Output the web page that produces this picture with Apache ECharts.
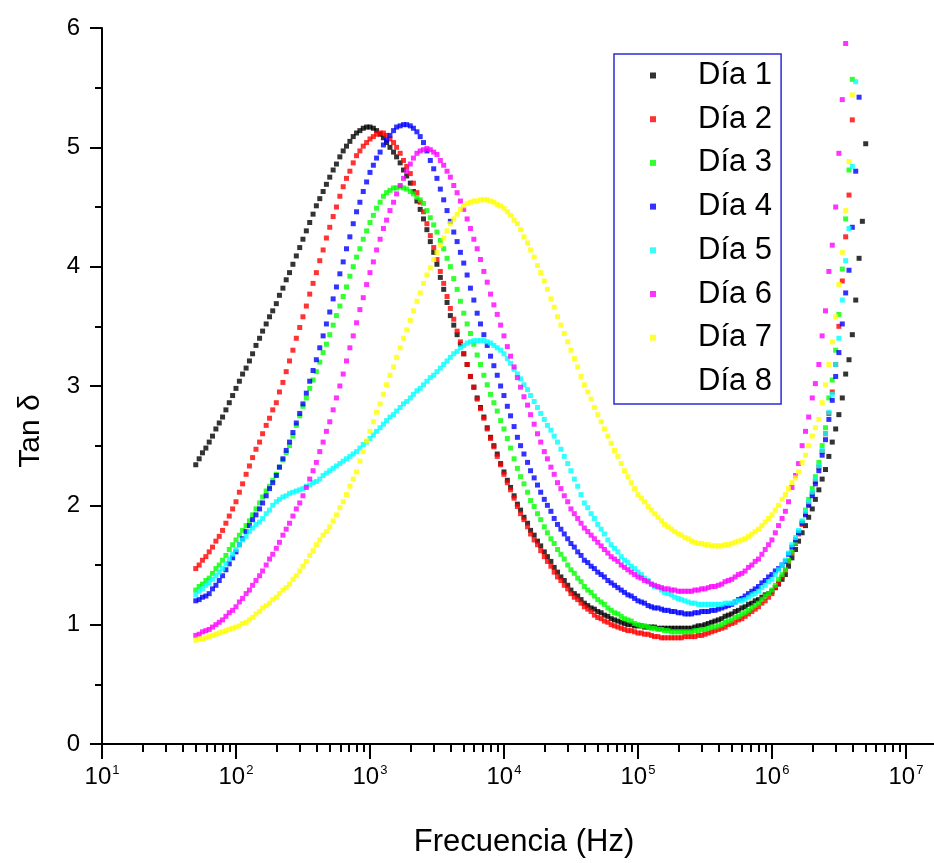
<!DOCTYPE html>
<html><head><meta charset="utf-8">
<script src="https://cdn.jsdelivr.net/npm/echarts@6/dist/echarts.min.js"></script>
<style>html,body{margin:0;padding:0;background:#fff}#c{width:934px;height:863px}</style>
</head><body><div id="c"></div>
<script>
// Frequency sweep (Hz)
const freqHz = [50.1,53.1,56.2,59.6,63.1,66.8,70.8,75.0,79.4,84.1,89.1,94.4,100,106,112,119,126,133,141,150,158,168,178,188,200,211,224,237,251,266,282,299,316,335,355,376,398,422,447,473,
501,531,562,596,631,668,708,750,794,841,891,944,1000,1060,1120,1190,1260,1330,1410,1500,1580,1680,1780,1880,2000,2110,2240,2370,2510,2660,2820,2990,3160,3350,3550,3760,3980,4220,4470,4730,
5010,5310,5620,5960,6310,6680,7080,7500,7940,8410,8910,9440,10000,10600,11200,11900,12600,13300,14100,15000,15800,16800,17800,18800,20000,21100,22400,23700,25100,26600,28200,29900,31600,33500,35500,37600,39800,42200,44700,47300,
50100,53100,56200,59600,63100,66800,70800,75000,79400,84100,89100,94400,100000,106000,112000,119000,126000,133000,141000,150000,158000,168000,178000,188000,200000,211000,224000,237000,251000,266000,282000,299000,316000,335000,355000,376000,398000,422000,447000,473000,
501000,531000,562000,596000,631000,668000,708000,750000,794000,841000,891000,944000,1000000,1060000,1120000,1190000,1260000,1330000,1410000,1500000,1580000,1680000,1780000,1880000,2000000,2110000,2240000,2370000,2510000,2660000,2820000,2990000,3160000,3350000,3550000,3760000,3980000,4220000,4470000,4730000,
5010000];

const dia1 = [2.34,2.39,2.44,2.48,2.53,2.58,2.64,2.69,2.74,2.80,2.86,2.92,
2.98,3.04,3.10,3.15,3.21,3.27,3.34,3.40,3.46,3.52,3.58,3.63,
3.69,3.76,3.82,3.89,3.95,4.02,4.09,4.16,4.23,4.30,4.37,4.44,
4.51,4.57,4.63,4.69,4.75,4.81,4.86,4.92,4.97,5.01,5.05,5.09,
5.12,5.14,5.16,5.17,5.17,5.16,5.14,5.11,5.08,5.04,5.00,4.96,
4.92,4.87,4.81,4.76,4.70,4.63,4.55,4.48,4.40,4.31,4.21,4.12,
4.02,3.91,3.81,3.70,3.59,3.51,3.43,3.35,3.27,3.18,3.08,2.99,
2.90,2.82,2.74,2.65,2.57,2.50,2.43,2.35,2.28,2.21,2.15,2.08,
2.01,1.96,1.90,1.85,1.79,1.75,1.70,1.66,1.61,1.57,1.53,1.48,
1.44,1.40,1.37,1.33,1.29,1.26,1.24,1.21,1.18,1.16,1.14,1.13,
1.11,1.10,1.08,1.07,1.05,1.04,1.03,1.02,1.01,1.00,1.00,0.99,
0.99,0.99,0.98,0.98,0.98,0.98,0.97,0.97,0.97,0.97,0.97,0.97,
0.97,0.97,0.97,0.97,0.97,0.98,0.99,0.99,1.00,1.01,1.02,1.03,
1.04,1.05,1.07,1.08,1.09,1.11,1.12,1.14,1.15,1.17,1.18,1.20,
1.21,1.23,1.25,1.26,1.28,1.31,1.34,1.38,1.42,1.49,1.56,1.63,
1.70,1.77,1.83,1.90,1.97,2.05,2.13,2.22,2.30,2.41,2.53,2.64,
2.76,2.90,3.10,3.22,3.43,3.72,4.07,4.38,5.03];

const dia2 = [1.47,1.50,1.54,1.57,1.61,1.65,1.70,1.74,1.79,1.85,1.91,1.97,
2.03,2.11,2.18,2.26,2.33,2.40,2.47,2.53,2.60,2.67,2.73,2.80,
2.86,2.95,3.03,3.12,3.21,3.30,3.40,3.49,3.58,3.67,3.77,3.86,
3.95,4.05,4.14,4.24,4.33,4.42,4.50,4.59,4.67,4.74,4.80,4.87,
4.93,4.97,5.01,5.04,5.07,5.09,5.11,5.12,5.12,5.10,5.07,5.04,
5.00,4.95,4.89,4.84,4.78,4.70,4.62,4.54,4.46,4.36,4.26,4.16,
4.06,3.96,3.86,3.75,3.65,3.56,3.46,3.37,3.27,3.18,3.08,2.99,
2.89,2.81,2.73,2.64,2.56,2.49,2.41,2.34,2.26,2.19,2.13,2.06,
1.99,1.93,1.88,1.82,1.76,1.71,1.67,1.62,1.57,1.53,1.49,1.44,
1.40,1.37,1.33,1.30,1.26,1.23,1.21,1.18,1.15,1.13,1.11,1.08,
1.06,1.05,1.03,1.02,1.00,0.99,0.98,0.97,0.96,0.95,0.95,0.94,
0.93,0.93,0.92,0.92,0.91,0.90,0.90,0.89,0.89,0.89,0.89,0.89,
0.89,0.89,0.90,0.90,0.90,0.90,0.91,0.91,0.92,0.93,0.94,0.95,
0.96,0.97,0.98,1.00,1.01,1.02,1.04,1.05,1.07,1.09,1.11,1.13,
1.15,1.18,1.20,1.23,1.26,1.31,1.35,1.40,1.45,1.53,1.60,1.68,
1.76,1.84,1.93,2.01,
2.10,2.20,2.32,2.45,2.60,2.77,2.95,3.18,3.50,3.88,4.25,4.60,5.23];

const dia3 = [1.29,1.32,1.34,1.37,1.39,1.43,1.47,1.50,1.54,1.58,1.63,1.67,
1.71,1.75,1.79,1.83,1.87,1.92,1.97,2.02,2.07,2.12,2.16,2.21,
2.26,2.32,2.38,2.44,2.50,2.58,2.67,2.75,2.83,2.90,2.98,3.05,
3.12,3.20,3.28,3.35,3.43,3.51,3.59,3.67,3.75,3.83,3.92,4.00,
4.08,4.15,4.23,4.30,4.37,4.43,4.49,4.54,4.59,4.62,4.64,4.66,
4.66,4.67,4.66,4.65,4.63,4.61,4.58,4.56,4.53,4.47,4.41,4.35,
4.29,4.22,4.15,4.07,4.00,3.90,3.81,3.71,3.61,3.52,3.44,3.35,
3.26,3.18,3.09,3.01,2.93,2.86,2.79,2.71,2.64,2.56,2.48,2.39,
2.31,2.24,2.18,2.11,2.04,1.99,1.93,1.88,1.82,1.77,1.72,1.68,
1.63,1.59,1.55,1.50,1.46,1.43,1.39,1.36,1.32,1.29,1.27,1.24,
1.21,1.19,1.17,1.14,1.12,1.10,1.09,1.07,1.05,1.04,1.03,1.01,
1.00,0.99,0.99,0.98,0.97,0.97,0.96,0.96,0.95,0.95,0.94,0.94,
0.94,0.94,0.94,0.94,0.94,0.95,0.95,0.96,0.96,0.97,0.98,0.98,
0.99,1.00,1.02,1.03,1.04,1.06,1.07,1.09,1.10,1.12,1.14,1.16,
1.18,1.21,1.24,1.26,1.29,1.33,1.38,1.42,1.46,1.54,1.61,1.69,
1.77,1.86,1.96,2.05,
2.14,2.24,2.36,2.50,2.65,2.90,3.05,3.30,3.60,3.98,4.40,4.81,5.57];

const dia4 = [1.20,1.21,1.23,1.24,1.26,1.30,1.33,1.37,1.41,1.46,1.51,1.56,
1.61,1.67,1.72,1.78,1.83,1.88,1.92,1.97,2.02,2.08,2.14,2.19,
2.25,2.32,2.39,2.46,2.53,2.61,2.69,2.77,2.85,2.94,3.04,3.13,
3.22,3.32,3.42,3.52,3.62,3.73,3.83,3.94,4.04,4.15,4.25,4.36,
4.46,4.54,4.63,4.71,4.79,4.85,4.91,4.96,5.02,5.06,5.10,5.14,
5.17,5.18,5.19,5.19,5.18,5.16,5.13,5.09,5.04,4.97,4.89,4.82,
4.74,4.65,4.56,4.47,4.38,4.29,4.21,4.12,4.03,3.93,3.82,3.72,
3.61,3.52,3.43,3.34,3.25,3.17,3.09,3.00,2.92,2.83,2.75,2.66,
2.57,2.50,2.43,2.36,2.29,2.23,2.17,2.11,2.05,2.00,1.95,1.89,
1.84,1.80,1.76,1.72,1.68,1.65,1.61,1.58,1.54,1.52,1.49,1.47,
1.44,1.42,1.40,1.37,1.35,1.33,1.31,1.29,1.27,1.25,1.24,1.22,
1.20,1.19,1.18,1.16,1.15,1.14,1.14,1.13,1.12,1.12,1.11,1.11,
1.10,1.10,1.09,1.09,1.09,1.10,1.10,1.11,1.11,1.11,1.12,1.12,
1.13,1.14,1.15,1.16,1.17,1.19,1.21,1.22,1.24,1.26,1.28,1.30,
1.32,1.35,1.37,1.40,1.42,1.45,1.47,1.50,1.53,1.59,1.65,1.71,
1.77,1.85,1.92,2.00,
2.08,2.18,2.29,2.42,2.55,2.72,2.88,3.08,3.28,3.52,3.78,3.97,4.33,4.80,5.42];

const dia5 = [1.25,1.28,1.30,1.33,1.35,1.38,1.41,1.44,1.47,1.51,1.55,1.59,
1.63,1.67,1.71,1.74,1.78,1.81,1.84,1.86,1.89,1.93,1.96,2.00,
2.03,2.05,2.07,2.08,2.10,2.11,2.12,2.13,2.14,2.16,2.17,2.19,
2.20,2.22,2.25,2.27,2.29,2.31,2.33,2.35,2.37,2.39,2.41,2.43,
2.45,2.48,2.51,2.53,2.56,2.59,2.62,2.65,2.68,2.71,2.74,2.76,
2.79,2.82,2.85,2.87,2.90,2.93,2.96,2.98,3.01,3.04,3.07,3.09,
3.12,3.15,3.18,3.21,3.24,3.27,3.29,3.32,3.34,3.36,3.37,3.38,
3.38,3.38,3.38,3.37,3.36,3.34,3.32,3.30,3.27,3.23,3.19,3.14,
3.10,3.06,3.01,2.97,2.92,2.87,2.82,2.77,2.72,2.67,2.63,2.58,
2.53,2.47,2.41,2.35,2.29,2.22,2.16,2.09,2.02,1.98,1.93,1.89,
1.84,1.80,1.76,1.71,1.67,1.64,1.61,1.57,1.54,1.52,1.49,1.47,
1.44,1.42,1.39,1.37,1.34,1.32,1.31,1.29,1.27,1.26,1.25,1.23,
1.22,1.21,1.20,1.19,1.18,1.18,1.17,1.17,1.17,1.17,1.17,1.17,
1.17,1.17,1.18,1.18,1.18,1.19,1.20,1.20,1.21,1.23,1.25,1.26,
1.28,1.31,1.33,1.36,1.38,1.42,1.46,1.50,1.54,1.60,1.67,1.73,
1.79,1.87,1.95,2.03,
2.11,2.22,2.33,2.46,2.60,2.78,2.93,3.18,3.40,3.72,4.05,4.32,4.84,5.55];

const dia6 = [0.91,0.92,0.94,0.95,0.96,0.98,1.00,1.02,1.04,1.07,1.10,1.12,
1.15,1.19,1.22,1.26,1.29,1.33,1.37,1.41,1.45,1.50,1.55,1.59,
1.64,1.69,1.75,1.80,1.85,1.91,1.97,2.02,2.08,2.15,2.22,2.29,
2.36,2.45,2.53,2.62,2.70,2.80,2.90,3.00,3.10,3.21,3.32,3.42,
3.53,3.64,3.74,3.85,3.95,4.04,4.14,4.23,4.32,4.39,4.47,4.54,
4.61,4.68,4.74,4.80,4.86,4.91,4.95,4.97,4.98,4.99,4.98,4.96,
4.94,4.89,4.85,4.80,4.75,4.68,4.62,4.55,4.48,4.40,4.32,4.23,
4.15,4.06,3.96,3.87,3.77,3.68,3.60,3.51,3.42,3.33,3.25,3.16,
3.07,2.99,2.91,2.84,2.76,2.68,2.60,2.53,2.45,2.39,2.32,2.26,
2.19,2.14,2.08,2.03,1.97,1.93,1.89,1.85,1.81,1.78,1.75,1.72,
1.69,1.66,1.63,1.60,1.57,1.55,1.53,1.50,1.48,1.46,1.44,1.42,
1.40,1.39,1.37,1.36,1.34,1.33,1.32,1.31,1.30,1.30,1.29,1.29,
1.28,1.28,1.28,1.28,1.28,1.29,1.29,1.30,1.30,1.31,1.32,1.32,
1.33,1.34,1.36,1.37,1.38,1.40,1.42,1.43,1.45,1.48,1.50,1.53,
1.55,1.59,1.63,1.67,1.71,1.77,1.83,1.89,
1.95,2.03,2.15,2.25,2.35,2.50,2.62,2.74,2.90,3.02,3.18,3.42,3.63,3.96,4.18,4.50,4.95,5.40,5.87];

const dia7 = [0.87,0.88,0.88,0.89,0.90,0.91,0.92,0.93,0.94,0.95,0.96,0.97,
0.98,0.99,1.01,1.02,1.04,1.06,1.09,1.11,1.14,1.16,1.18,1.21,
1.23,1.26,1.29,1.31,1.34,1.38,1.41,1.45,1.49,1.53,1.58,1.62,
1.67,1.71,1.75,1.78,1.82,1.87,1.92,1.98,2.03,2.09,2.16,2.22,
2.28,2.37,2.45,2.54,2.62,2.70,2.78,2.85,2.93,3.01,3.09,3.16,
3.24,3.32,3.40,3.47,3.55,3.63,3.71,3.78,3.86,3.93,3.99,4.06,
4.12,4.18,4.24,4.30,4.36,4.40,4.44,4.48,4.51,4.53,4.54,4.55,
4.55,4.56,4.56,4.56,4.55,4.54,4.52,4.51,4.49,4.46,4.43,4.39,
4.36,4.31,4.25,4.20,4.14,4.08,4.01,3.95,3.88,3.81,3.73,3.66,
3.58,3.51,3.44,3.37,3.30,3.23,3.16,3.08,3.01,2.95,2.89,2.82,
2.76,2.70,2.64,2.58,2.52,2.46,2.41,2.35,2.29,2.24,2.19,2.14,
2.09,2.06,2.03,1.99,1.96,1.93,1.90,1.87,1.84,1.82,1.80,1.78,
1.76,1.75,1.73,1.72,1.70,1.69,1.68,1.68,1.67,1.67,1.66,1.66,
1.66,1.66,1.67,1.67,1.68,1.69,1.70,1.71,1.72,1.74,1.76,1.78,
1.80,1.83,1.86,1.89,1.92,1.96,2.00,2.05,2.09,2.14,2.19,2.23,
2.28,2.36,2.42,2.50,2.58,2.65,2.72,2.86,3.01,3.18,3.37,3.58,3.85,4.12,4.47,4.88,5.44];

const dia8 = [];

const seriesNames = ['Día 1','Día 2','Día 3','Día 4','Día 5','Día 6','Día 7','Día 8'];
const seriesValues = [dia1, dia2, dia3, dia4, dia5, dia6, dia7, dia8];
const seriesColors = ['#000000','#ff0000','#00ff00','#0000ff','#00ffff','#ff00ff','#ffff00','rgba(255,255,255,0)'];

const xMajorTicks = [10,100,1000,10000,100000,1000000,10000000];
const xTickExponents = ['1','2','3','4','5','6','7'];
const xMinorTicks = [20,30,40,50,60,70,80,90,
200,300,400,500,600,700,800,900,
2000,3000,4000,5000,6000,7000,8000,9000,
20000,30000,40000,50000,60000,70000,80000,90000,
200000,300000,400000,500000,600000,700000,800000,900000,
2000000,3000000,4000000,5000000,6000000,7000000,8000000,9000000];

const FONT = 'Arial, "Liberation Sans", sans-serif';
const chart = echarts.init(document.getElementById('c'), null, {renderer:'canvas'});

const option = {
  animation: false,
  backgroundColor: '#ffffff',
  grid: {left: 102, top: 28, right: 0, bottom: 115, containLabel: false},
  xAxis: [{
    type: 'log', logBase: 10, min: 10, max: 1.62e7,
    position: 'bottom',
    axisLine: {show: true, onZero: false, lineStyle: {color: '#000', width: 2}},
    axisTick: {show: true, inside: false, length: 15, lineStyle: {color: '#000', width: 2}, customValues: xMajorTicks},
    axisLabel: {
      show: true, margin: 20, color: '#000', customValues: xMajorTicks,
      formatter: function (v) {
        const e = xTickExponents[Math.round(Math.log10(v)) - 1];
        return '{b|10}{s|' + e + '}';
      },
      rich: {
        b: {fontSize: 24, fontFamily: FONT, color: '#000', lineHeight: 26},
        s: {fontSize: 13, fontFamily: FONT, color: '#000', verticalAlign: 'top', lineHeight: 26, padding: [0, 0, 0, 1]}
      }
    },
    splitLine: {show: false},
    minorTick: {show: false},
    name: 'Frecuencia (Hz)', nameLocation: 'middle', nameGap: 83,
    nameTextStyle: {fontSize: 31, fontFamily: FONT, color: '#000', padding: [0, 0, 0, 12]}
  }, {
    type: 'log', logBase: 10, min: 10, max: 1.62e7,
    position: 'bottom', offset: 0,
    axisLine: {show: false, onZero: false},
    axisTick: {show: true, inside: false, length: 8, lineStyle: {color: '#000', width: 2}, customValues: xMinorTicks},
    axisLabel: {show: false},
    splitLine: {show: false}
  }],
  yAxis: {
    type: 'value', min: 0, max: 6, interval: 1,
    axisLine: {show: true, onZero: false, lineStyle: {color: '#000', width: 2}},
    axisTick: {show: true, inside: false, length: 12, lineStyle: {color: '#000', width: 2}},
    minorTick: {show: true, splitNumber: 2, length: 7, lineStyle: {color: '#000', width: 2}},
    splitLine: {show: false},
    minorSplitLine: {show: false},
    axisLabel: {fontSize: 24, fontFamily: FONT, color: '#000', margin: 22},
    name: 'Tan δ', nameLocation: 'middle', nameGap: 56,
    nameTextStyle: {fontSize: 30, fontFamily: FONT, color: '#000', padding: [0, 90, 0, 0]}
  },
  legend: {
    orient: 'vertical', left: 614, top: 54,
    data: seriesNames,
    icon: 'rect', itemWidth: 6, itemHeight: 6, itemGap: 12.7,
    padding: [6, 9, 7, 36],
    borderColor: '#2b2bd8', borderWidth: 1.5,
    selectedMode: false,
    textStyle: {fontSize: 31, fontFamily: FONT, color: '#000', lineHeight: 31, padding: [0, 0, 0, 37]}
  },
  series: seriesNames.map(function (name, k) {
    return {
      name: name, type: 'scatter', symbol: 'rect', symbolSize: 5,
      xAxisIndex: 0, yAxisIndex: 0, silent: true,
      itemStyle: {color: seriesColors[k]},
      data: seriesValues[k].map(function (v, i) { return [freqHz[i], v]; })
    };
  })
};
chart.setOption(option);
</script></body></html>
